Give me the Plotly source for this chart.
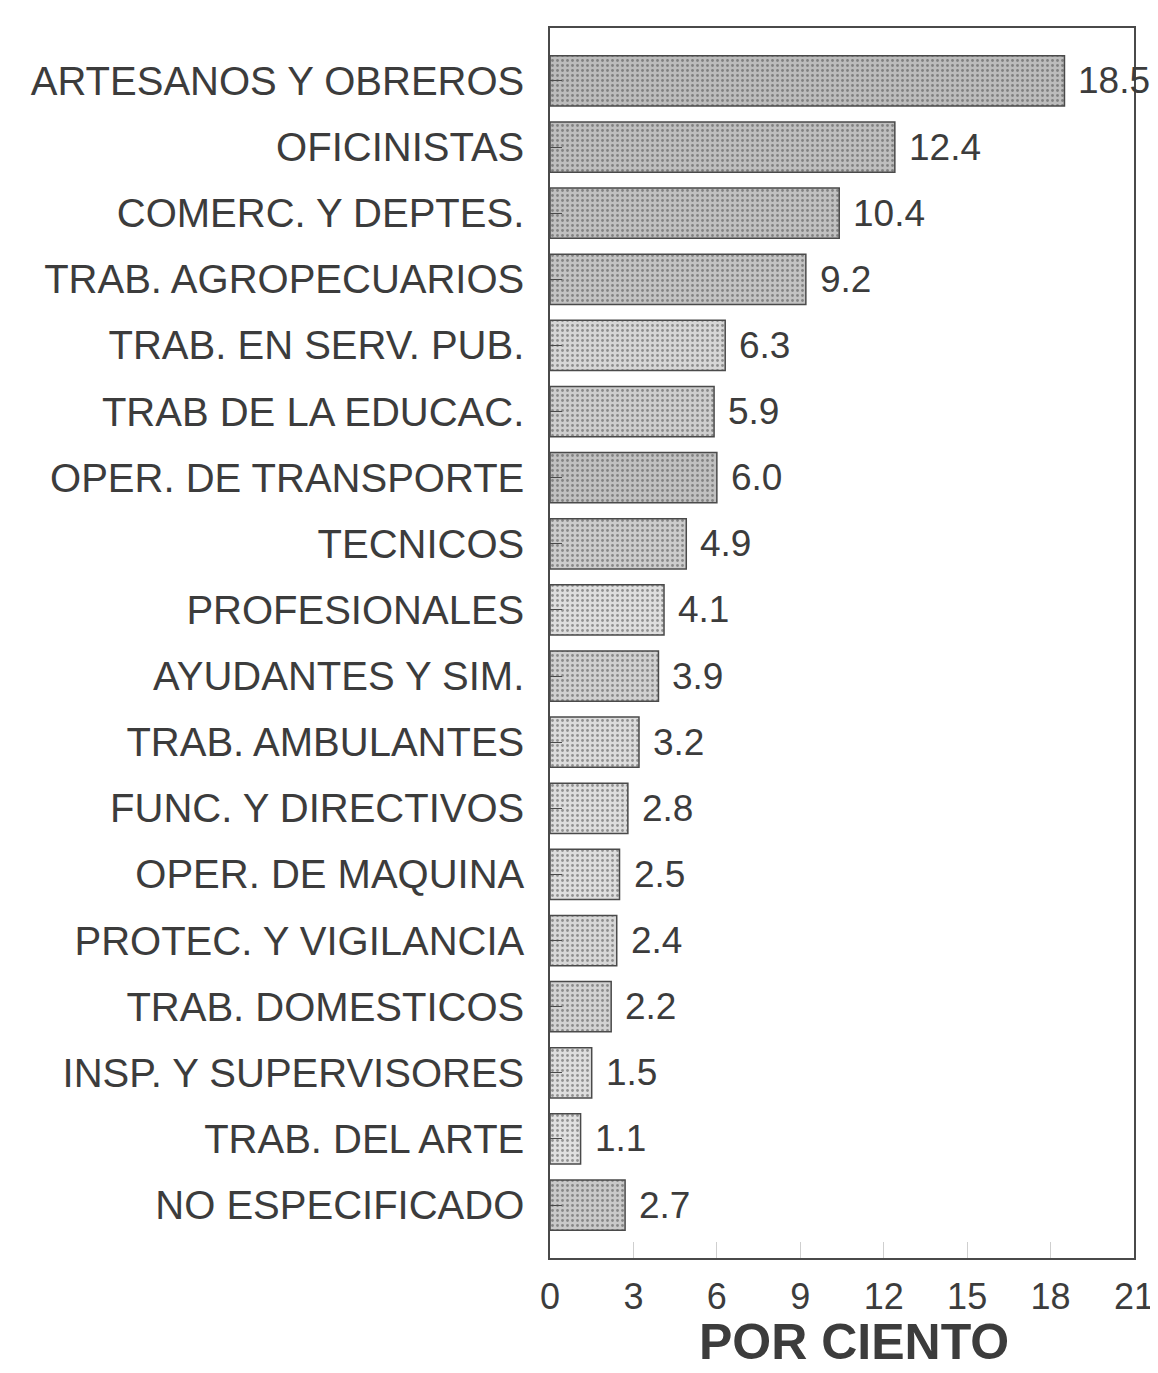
import plotly.graph_objects as go

categories = [
    "ARTESANOS Y OBREROS", "OFICINISTAS", "COMERC. Y DEPTES.", "TRAB. AGROPECUARIOS",
    "TRAB. EN SERV. PUB.", "TRAB DE LA EDUCAC.", "OPER. DE TRANSPORTE", "TECNICOS",
    "PROFESIONALES", "AYUDANTES Y SIM.", "TRAB. AMBULANTES", "FUNC. Y DIRECTIVOS",
    "OPER. DE MAQUINA", "PROTEC. Y VIGILANCIA", "TRAB. DOMESTICOS", "INSP. Y SUPERVISORES",
    "TRAB. DEL ARTE", "NO ESPECIFICADO",
]
values = [18.5, 12.4, 10.4, 9.2, 6.3, 5.9, 6.0, 4.9, 4.1, 3.9, 3.2, 2.8, 2.5, 2.4, 2.2, 1.5, 1.1, 2.7]
value_labels = ["18.5", "12.4", "10.4", "9.2", "6.3", "5.9", "6.0", "4.9", "4.1", "3.9",
                "3.2", "2.8", "2.5", "2.4", "2.2", "1.5", "1.1", "2.7"]
x_ticks = [0, 3, 6, 9, 12, 15, 18, 21]

bar_colors = ["#bcbcbc", "#bebebe", "#c0c0c0", "#c3c3c3", "#d6d6d6", "#cecece", "#c0c0c0",
              "#cccccc", "#dedede", "#d0d0d0", "#dcdcdc", "#dddddd", "#dddddd", "#d7d7d7",
              "#d2d2d2", "#dedede", "#e0e0e0", "#c9c9c9"]

ypos = list(range(len(categories)))
FONT = "Liberation Sans, Arial, sans-serif"
TXT = "#3c3c3c"

fig = go.Figure()
fig.add_trace(go.Bar(
    x=values, y=ypos, orientation="h", width=0.76,
    marker=dict(color=bar_colors, line=dict(color="#4a4a4a", width=1.5),
                pattern=dict(shape=".", fgcolor="#8f8f8f", size=5, solidity=0.25,
                             fillmode="overlay")),
    hoverinfo="skip", showlegend=False,
))

for v, lab, yy in zip(values, value_labels, ypos):
    fig.add_annotation(x=v, y=yy, text=lab, showarrow=False, xanchor="left",
                       xshift=12, font=dict(family=FONT, size=37, color=TXT))

fig.add_annotation(text="<b>POR CIENTO</b>", x=0.52, y=-0.068, xref="paper", yref="paper",
                   showarrow=False, xanchor="center", yanchor="middle",
                   font=dict(family=FONT, size=50, color=TXT))

fig.update_layout(
    width=1158, height=1373,
    margin=dict(l=542, r=25, t=20, b=123),
    paper_bgcolor="white", plot_bgcolor="white",
    xaxis=dict(range=[0, 21], tickvals=x_ticks, ticktext=[str(t) for t in x_ticks],
               ticks="inside", ticklen=16, tickcolor="#cfcfcf", tickwidth=1.2,
               showgrid=False, zeroline=False,
               showline=True, linecolor="#4a4a4a", linewidth=1.5, mirror=True,
               tickfont=dict(family=FONT, size=36, color=TXT), ticklabelstandoff=6),
    yaxis=dict(range=[17.8, -0.8], tickvals=ypos, ticktext=categories,
               ticks="inside", ticklen=12, tickcolor="#4a4a4a", tickwidth=1.2,
               showgrid=False, zeroline=False,
               showline=True, linecolor="#4a4a4a", linewidth=1.5, mirror=True,
               tickfont=dict(family=FONT, size=40, color=TXT), ticklabelstandoff=16),
)

fig.write_html("out.html")
